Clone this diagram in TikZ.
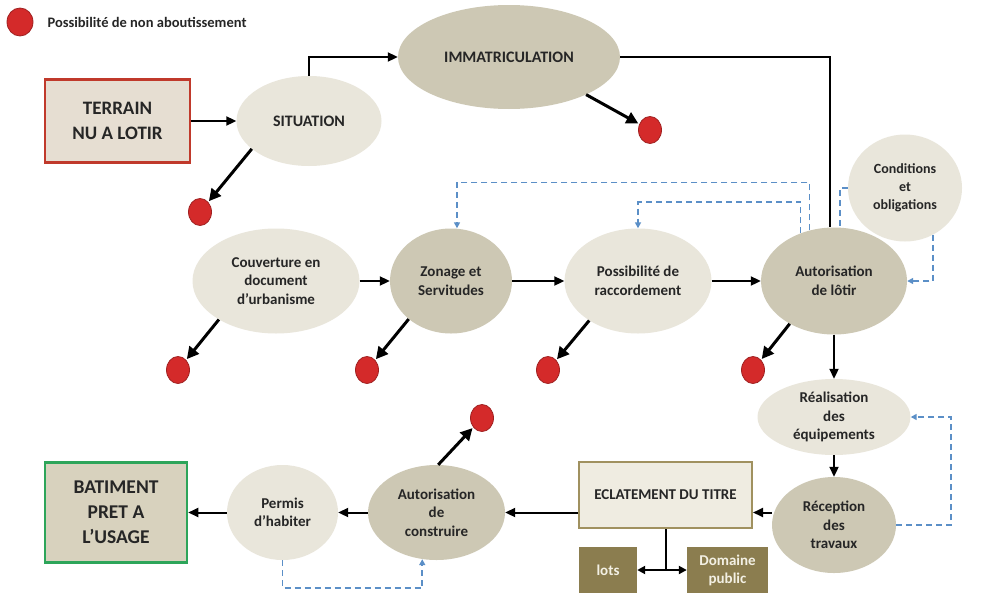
\documentclass[tikz,border=0pt]{standalone}
\usepackage{fontspec}
\setmainfont{Carlito}
\usetikzlibrary{shapes.geometric,arrows.meta}

\definecolor{pale}{HTML}{E9E6DB}
\definecolor{sand}{HTML}{CDC8B4}
\definecolor{olive}{HTML}{8B7D4F}
\definecolor{oliveline}{HTML}{A0915F}
\definecolor{lighttxt}{HTML}{F3F0E4}
\definecolor{dotred}{HTML}{D42A2A}
\definecolor{fbblue}{HTML}{5B8FC7}
\definecolor{termred}{HTML}{C0392B}
\definecolor{okgreen}{HTML}{2DA55A}

\begin{document}
\begin{tikzpicture}[x=1pt,y=-1pt,
  >={Triangle[length=10pt,width=9pt]},
  dims/.style 2 args={minimum width=#1,minimum height=#2},
  oval/.style={ellipse,fill=pale,inner sep=0pt,align=center,text=black!85,
    font=\bfseries\fontsize{15}{18.5}\selectfont},
  ovaldark/.style={oval,fill=sand},
  bigbox/.style={rectangle,line width=2.5pt,align=center,text=black!85,
    font=\bfseries\fontsize{19}{25}\selectfont},
  lotbox/.style={rectangle,fill=olive,text=lighttxt,align=center,
    font=\bfseries\fontsize{15}{18}\selectfont},
  ko/.style={ellipse,fill=dotred,draw=dotred!75!black,line width=0.8pt,
    minimum width=23pt,minimum height=27pt,inner sep=0pt},
  flow/.style={line width=2pt,->},
  fail/.style={line width=3pt,-{Triangle[length=12pt,width=12pt]},shorten >=1pt},
  fb/.style={fbblue,line width=1.5pt,dash pattern=on 6pt off 4pt,
    -{Triangle[length=6pt,width=6pt]}}
]
\fill[white] (0,0) rectangle (981,597);
\useasboundingbox (0,0) rectangle (981,597);

% legend
\node[ko,dims={26pt}{28pt}] (legdot) at (20,22) {};
\node[anchor=west,text=black!85,font=\bfseries\fontsize{14.5}{17}\selectfont] (legtxt) at (44,22) {Possibilité de non aboutissement};

% top row
\node[bigbox,draw=termred,fill={rgb,255:red,230;green,222;blue,210},dims={145pt}{83pt}] (terrain) at (117.5,121) {TERRAIN\\NU A LOTIR};
\node[oval,font=\bfseries\fontsize{16}{19}\selectfont,dims={145pt}{90pt}] (sit) at (309,121) {SITUATION};
\node[ovaldark,font=\bfseries\fontsize{16}{19}\selectfont,dims={222pt}{104pt}] (imm) at (509,57) {IMMATRICULATION};
\node[oval,font=\bfseries\fontsize{14}{18}\selectfont,dims={114pt}{107pt}] (cond) at (905,188) {Conditions\\et\\obligations};

% middle row
\node[oval,dims={167pt}{105pt}] (couv) at (276,281) {Couverture en\\document\\d’urbanisme};
\node[ovaldark,dims={122pt}{105pt}] (zon) at (451,281) {Zonage et\\Servitudes};
\node[oval,dims={147pt}{105pt}] (poss) at (638,281) {Possibilité de\\raccordement};
\node[ovaldark,dims={146pt}{107pt}] (aut) at (834,281) {Autorisation\\de lôtir};

% right column and bottom row
\node[oval,dims={153pt}{76pt}] (real) at (834,417) {Réalisation\\des\\équipements};
\node[ovaldark,dims={124pt}{96pt}] (rec) at (834,525) {Réception\\des\\travaux};
\node[rectangle,draw=oliveline,line width=2pt,fill={rgb,255:red,239;green,236;blue,225},text=black!85,
  font=\bfseries\fontsize{15}{18}\selectfont,dims={173pt}{66pt}] (ecl) at (665.5,495) {ECLATEMENT DU TITRE};
\node[lotbox,dims={58pt}{46pt}] (lots) at (608,570) {lots};
\node[lotbox,dims={81pt}{46pt}] (dom) at (727.5,570) {Domaine\\public};
\node[ovaldark,dims={137pt}{95pt}] (cons) at (436.5,512.5) {Autorisation\\de\\construire};
\node[oval,dims={111pt}{95pt}] (perm) at (282.5,512.5) {Permis\\d’habiter};
\node[bigbox,draw=okgreen,fill={rgb,255:red,216;green,210;blue,190},font=\bfseries\fontsize{19.5}{25}\selectfont,dims={142pt}{100pt}] (bat) at (116,512.5) {BATIMENT\\PRET A\\L’USAGE};

% points of failure
\node[ko] (k1) at (200,212) {};
\node[ko] (k2) at (650,130) {};
\node[ko] (k3) at (178,370) {};
\node[ko] (k4) at (367,370) {};
\node[ko] (k5) at (548,370) {};
\node[ko] (k6) at (753,370) {};
\node[ko] (k7) at (482,418) {};

% main flow
\draw[flow] (terrain) -- (sit);
\draw[flow] (sit.north) |- (imm.west);
\draw[line width=2pt] (imm.east) -| ([xshift=-4pt]aut.north);
\draw[flow] (couv) -- (zon);
\draw[flow] (zon) -- (poss);
\draw[flow] (poss) -- (aut);
\draw[flow] (aut) -- (real);
\draw[flow] (real) -- (rec);
\draw[flow] (rec.west |- cons) -- (ecl.east |- cons);
\draw[flow] (ecl.west |- cons) -- (cons);
\draw[flow] (cons) -- (perm);
\draw[flow] (perm) -- (bat);
\coordinate (split) at (ecl.south |- lots);
\draw[line width=2pt] (ecl.south) -- (split);
\draw[line width=2pt,-{Triangle[length=8pt,width=8pt]}] (split) -- (lots);
\draw[line width=2pt,-{Triangle[length=8pt,width=8pt]}] (split) -- (dom);

% arrows to the red points
\draw[fail] (sit.206) -- (k1);
\draw[fail] (imm.334) -- (k2);
\draw[fail] (couv.214) -- (k3);
\draw[fail] (zon.222) -- (k4);
\draw[fail] (poss.219) -- (k5);
\draw[fail] (aut.224) -- (k6);
\draw[fail] (cons.88) -- (k7);

% dashed feedback
\draw[fb] (aut.116) -- ++(0,-48) -| ([xshift=6pt]zon.north);
\draw[fb] (aut.125) -- ++(0,-31) -| (poss.north);
\draw[fb,-] (cond.west) -| ([xshift=6pt]aut.north);
\draw[fb] (cond.301) |- (aut.east);
\draw[fb] (rec.east) -- ++(55,0) |- (real.east);
\draw[fb] (perm.south) -- ++(0,28) -| (cons.253);
\end{tikzpicture}
\end{document}
